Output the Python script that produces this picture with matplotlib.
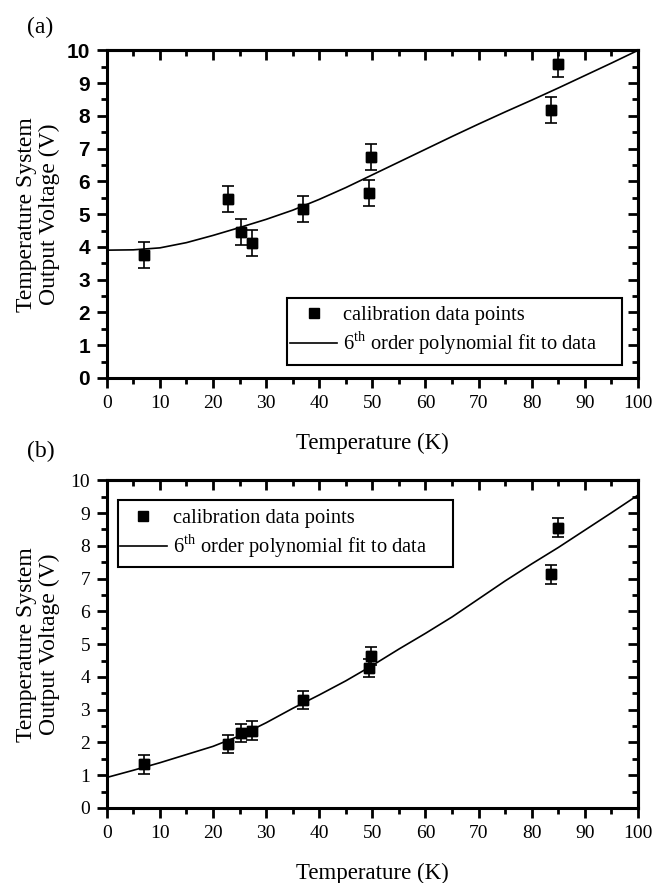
import matplotlib
matplotlib.use('Agg')
import matplotlib.pyplot as plt
from matplotlib.patches import Rectangle
from matplotlib.ticker import MultipleLocator, NullFormatter
import numpy as np

plt.rcParams['font.family'] = 'Liberation Serif'
plt.rcParams['mathtext.fontset'] = 'custom'
plt.rcParams['mathtext.rm'] = 'Liberation Serif'

# calibration points (same temperatures in both panels)
temps = [7.0, 22.8, 25.2, 27.4, 37.0, 49.3, 49.8, 83.7, 84.9]
volt_a = [3.75, 5.45, 4.46, 4.11, 5.15, 5.65, 6.75, 8.19, 9.59]
err_a = [0.4, 0.4, 0.4, 0.4, 0.4, 0.4, 0.4, 0.4, 0.4]
volt_b = [1.33, 1.95, 2.28, 2.36, 3.29, 4.28, 4.63, 7.13, 8.56]
err_b = [0.28, 0.28, 0.28, 0.28, 0.28, 0.28, 0.28, 0.28, 0.28]

# fitted curves
fit_t = [0, 5, 10, 15, 20, 25, 30, 35, 40, 45, 50,
         55, 60, 65, 70, 75, 80, 85, 90, 95, 100]
fit_a = [3.90, 3.91, 3.97, 4.13, 4.35, 4.59, 4.84, 5.12, 5.45, 5.81, 6.20,
         6.59, 6.98, 7.37, 7.75, 8.12, 8.48, 8.85, 9.23, 9.61, 10.0]
fit_b = [0.93, 1.15, 1.38, 1.63, 1.88, 2.20, 2.60, 3.04, 3.45, 3.88, 4.35,
         4.85, 5.33, 5.83, 6.38, 6.93, 7.45, 7.95, 8.48, 9.01, 9.55]

y_ticks = list(range(0, 11))
x_ticks = list(range(0, 101, 10))

fig = plt.figure(figsize=(6.55, 8.83), dpi=100)
ax_a = fig.add_axes([0.163, 0.572, 0.811, 0.371])
ax_b = fig.add_axes([0.163, 0.085, 0.811, 0.371])


def draw_panel(ax, volts, errs, fit, leg_anchor, box_xy, sans_y):
    ax.errorbar(temps, volts, yerr=errs, fmt='s', color='black', ms=7,
                capsize=4.5, elinewidth=1.2, capthick=1.2)
    pts, = ax.plot(temps, volts, 's', color='black', ms=7,
                   label='calibration data points')
    fl, = ax.plot(fit_t, fit, '-', color='black', lw=1.2,
                  label=r'6$^{\mathrm{th}}$ order polynomial fit to data')

    ax.set_xlim(0, 100)
    ax.set_ylim(0, 10)
    ax.set_xticks(x_ticks)
    ax.xaxis.set_minor_locator(MultipleLocator(5))
    if sans_y:
        ax.set_yticks(y_ticks, labels=[str(v) for v in y_ticks],
                      fontfamily='Liberation Sans', fontweight='bold',
                      fontsize=15)
    else:
        ax.set_yticks(y_ticks, labels=[str(v) for v in y_ticks], fontsize=14)
    ax.yaxis.set_minor_locator(MultipleLocator(0.5))
    ax.tick_params(axis='x', labelsize=14)
    ax.tick_params(which='both', direction='out', width=2, top=False,
                   right=False, pad=5)
    ax.tick_params(which='major', length=7)
    ax.tick_params(which='minor', length=4)
    for s in ax.spines.values():
        s.set_linewidth(2.2)

    # mirrored ticks pointing inward on top and right
    secx = ax.secondary_xaxis('top')
    secx.set_xticks(x_ticks)
    secx.xaxis.set_minor_locator(MultipleLocator(5))
    secx.xaxis.set_major_formatter(NullFormatter())
    secx.tick_params(which='both', direction='in', width=2)
    secx.tick_params(which='major', length=7)
    secx.tick_params(which='minor', length=4)
    secx.spines['top'].set_linewidth(2.2)
    secy = ax.secondary_yaxis('right')
    secy.set_yticks(y_ticks)
    secy.yaxis.set_minor_locator(MultipleLocator(0.5))
    secy.yaxis.set_major_formatter(NullFormatter())
    secy.tick_params(which='both', direction='in', width=2)
    secy.tick_params(which='major', length=7)
    secy.tick_params(which='minor', length=4)
    secy.spines['right'].set_linewidth(2.2)

    ax.set_xlabel('Temperature (K)', fontsize=16.5)
    ax.xaxis.set_label_coords(0.5, -0.168)
    ax.set_ylabel('Temperature System\nOutput Voltage (V)', fontsize=17,
                  linespacing=1.1)
    ax.yaxis.set_label_coords(-0.088, 0.5)

    # legend entries without frame, box drawn separately (Origin style)
    ax.legend(handles=[pts, fl], loc='center left', bbox_to_anchor=leg_anchor,
              borderaxespad=0, borderpad=0, fontsize=14.8, frameon=False,
              handlelength=2.3, handletextpad=0.3, labelspacing=0.22)
    ax.add_patch(Rectangle(box_xy, 0.631, 0.204, transform=ax.transAxes,
                           fill=False, edgecolor='black', lw=1.5, zorder=5))


draw_panel(ax_a, volt_a, err_a, fit_a, (0.345, 0.142), (0.339, 0.040), True)
draw_panel(ax_b, volt_b, err_b, fit_b, (0.0245, 0.835), (0.0207, 0.735), False)

fig.text(27 / 655, 1 - 27 / 883, '(a)', fontsize=17, ha='left', va='center')
fig.text(27 / 655, 1 - 451 / 883, '(b)', fontsize=17, ha='left', va='center')

fig.savefig('out.png', dpi=100)
